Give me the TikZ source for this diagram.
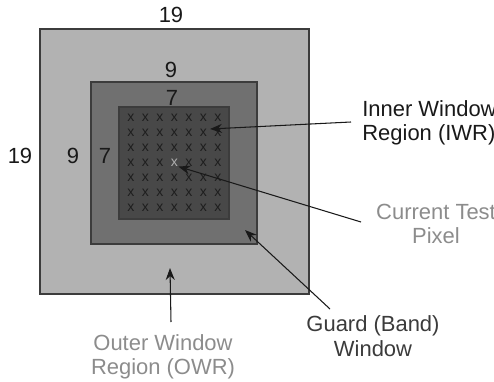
\documentclass[tikz,border=0pt]{standalone}
\usepackage{fontspec}
\setmainfont{Liberation Sans}
\usetikzlibrary{arrows.meta,positioning}
\definecolor{owrgray}{RGB}{178,178,178}
\definecolor{guardgray}{RGB}{112,112,112}
\definecolor{iwrgray}{RGB}{72,72,72}
\definecolor{edgegray}{RGB}{60,60,60}
\definecolor{markgray}{RGB}{30,30,30}
\definecolor{testgray}{RGB}{175,175,175}
\definecolor{softtext}{RGB}{140,140,140}
\definecolor{ink}{RGB}{25,25,25}
\tikzset{
  >={Stealth[length=2.4mm,width=1.8mm]},
  region/.style={draw=edgegray,fill=#1,line width=0.6pt,inner sep=0pt},
  cell/.style={inner sep=0pt,font=\fontsize{8}{8}\selectfont,text=#1},
  cell/.default=markgray,
  size/.style={font=\fontsize{12.5}{14}\selectfont,text=ink},
  callout/.style={font=\fontsize{12.5}{14}\selectfont,align=center,inner sep=0pt,text=#1},
  callout/.default=ink,
  pointer/.style={->,line width=0.6pt,draw=ink},
}

\begin{document}
\begin{tikzpicture}[x=0.02cm,y=-0.02cm]
  \useasboundingbox (0,0) rectangle (494,382);
  % nested windows
  \node[region=owrgray,minimum width=5.38cm,minimum height=5.3cm] (owr) at (174.5,161.5) {};
  \node[region=guardgray,minimum width=3.32cm,minimum height=3.24cm] (guard) at (174,163) {};
  \node[region=iwrgray,minimum width=2.2cm,minimum height=2.24cm] (iwr) at (174,163) {};
  % 7x7 pixel marks, the test pixel in the middle
  \foreach \r in {0,...,6}{
    \foreach \c in {0,...,6}{
      \pgfmathtruncatemacro{\mid}{\r==3 && \c==3}
      \ifnum\mid=1
        \node[cell=testgray] (test) at (131+\c*14.5,117.5+\r*15) {x};
      \else
        \node[cell] (x-\r-\c) at (131+\c*14.5,117.5+\r*15) {x};
      \fi
    }
  }
  % window sizes
  \node[size] (n19t) at (171,15) {19};
  \node[size] (n19l) at (20,156) {19};
  \node[size] (n9t) at (171,70) {9};
  \node[size] (n9l) at (73,156) {9};
  \node[size] (n7t) at (172,98) {7};
  \node[size] (n7l) at (105,156) {7};
  % labels
  \node[callout,align=left,anchor=west] (iwrlab) at (362,123) {Inner Window\\Region (IWR)};
  \node[callout=softtext] (testlab) at (436,224) {Current Test\\Pixel};
  \node[callout=ink!85] (guardlab) at (373,336) {Guard (Band)\\Window};
  \node[callout=softtext] (owrlab) at (163,357) {Outer Window\\Region (OWR)};
  \coordinate (iwrtip) at (210,129);
  \coordinate (guardtip) at (245,230);
  \coordinate (owrtip) at (170,268);
  \coordinate (iwrfoot) at (351,122);
  \coordinate (testfoot) at (361,222);
  \coordinate (guardfoot) at (330,309);
  \coordinate (owrfoot) at (171,322);
  \draw[pointer] (iwrfoot) -- (iwrtip);
  \draw[pointer] (testfoot) -- (test.south east);
  \draw[pointer] (guardfoot) -- (guardtip);
  \draw[pointer] (owrfoot) -- (owrtip);
\end{tikzpicture}
\end{document}
